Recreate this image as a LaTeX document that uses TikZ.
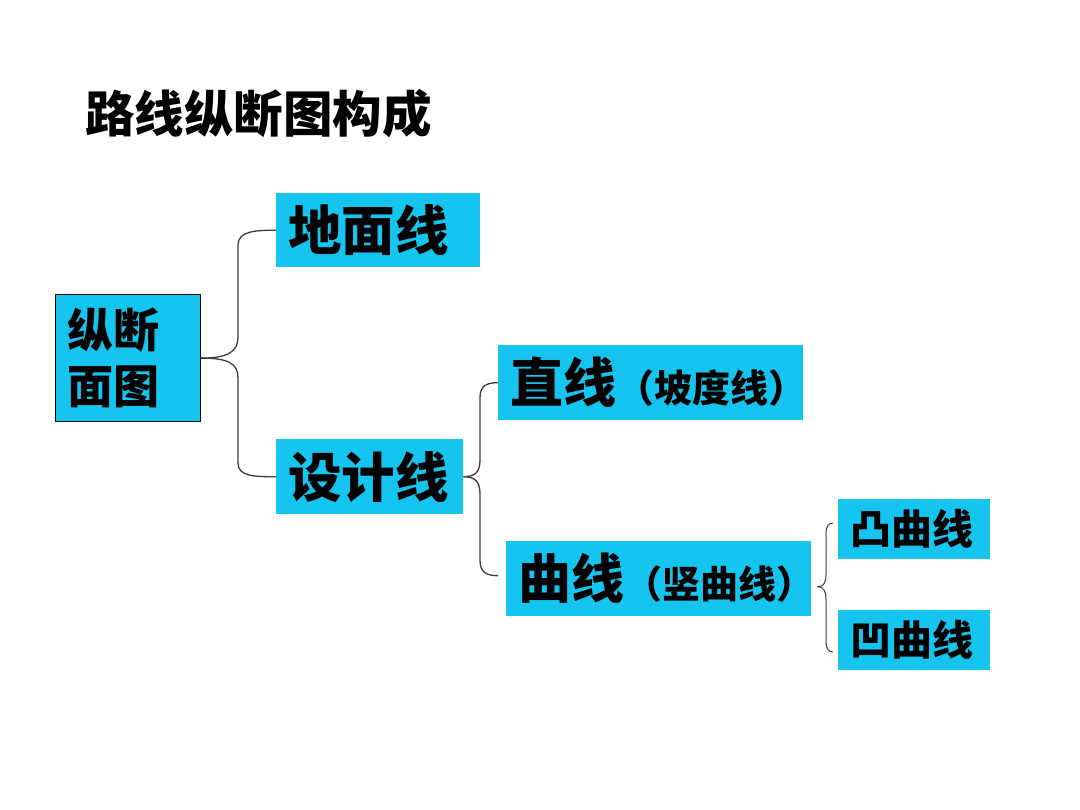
\documentclass[tikz,border=0pt]{standalone}
\usepackage{fontspec}
\setmainfont{Noto Sans CJK SC}
\usetikzlibrary{calc}
\definecolor{boxcyan}{RGB}{22,196,240}
\definecolor{bracegray}{RGB}{60,60,60}
\tikzset{
  box/.style={fill=boxcyan, anchor=north west, inner xsep=12pt, inner ysep=0pt, align=left, font=\bfseries},
  brace/.style={draw=bracegray, line width=1.3pt},
}
\begin{document}
\begin{tikzpicture}[x=1pt,y=-1pt]
\fill[white] (0,0) rectangle (1080,810);
\useasboundingbox (0,0) rectangle (1080,810);

\node[anchor=west, inner sep=0pt, font=\bfseries\fontsize{49.5}{52}\selectfont] (title) at (85,114) {路线纵断图构成};

\node[box, draw=black, line width=1.2pt, text width=121pt, minimum height=127pt,
      font=\bfseries\fontsize{46}{56}\selectfont] (root) at (55,294) {纵断\\面图};
\node[box, text width=180pt, minimum height=74pt, font=\bfseries\fontsize{53.5}{56}\selectfont] (ground) at (276,193) {地面线};
\node[box, text width=163pt, minimum height=75pt, font=\bfseries\fontsize{53.5}{56}\selectfont] (design) at (276,439) {设计线};
\node[box, text width=281pt, minimum height=75pt] (straight) at (498,345)
  {\mbox{{\fontsize{53}{56}\selectfont 直线}{\fontsize{38}{40}\selectfont （坡度线）}}};
\node[box, text width=281pt, minimum height=75pt] (curve) at (506,541)
  {\mbox{{\fontsize{53}{56}\selectfont 曲线}{\fontsize{38}{40}\selectfont （竖曲线）}}};
\node[box, text width=128pt, minimum height=60pt, font=\bfseries\fontsize{41}{44}\selectfont] (convex) at (838,499) {凸曲线};
\node[box, text width=128pt, minimum height=60pt, font=\bfseries\fontsize{41}{44}\selectfont] (concave) at (838,610) {凹曲线};

% brace 1
\draw[brace] (root.east) .. controls +(28,0) and +(0,14) .. (238,337) -- (238,245)
  .. controls +(0,-14) and +(-20,0) .. (ground.west);
\draw[brace] (root.east) .. controls +(28,0) and +(0,-14) .. (238,378) -- (238,463)
  .. controls +(0,14) and +(-20,0) .. (design.west);

% brace 2
\coordinate (c2end) at ($(curve.west)+(-8,-3)$);
\draw[brace] (design.east) .. controls +(12,0) and +(0,12) .. (480,460) -- (480,398)
  .. controls +(0,-12) and +(-12,0) .. (straight.west);
\draw[brace] (design.east) .. controls +(12,0) and +(0,-12) .. (480,494) -- (480,560)
  .. controls +(0,12) and +(-12,0) .. (c2end);

% brace 3
\coordinate (c3tip) at ($(curve.east)+(6,8)$);
\coordinate (c3top) at (833,523);
\coordinate (c3bot) at (833,652);
\draw[brace, line width=1pt] (c3tip) .. controls +(6,0) and +(0,8) .. (826,575) -- (826,533)
  .. controls +(0,-7) and +(-4,0) .. (c3top);
\draw[brace, line width=1pt] (c3tip) .. controls +(6,0) and +(0,-8) .. (826,599) -- (826,642)
  .. controls +(0,7) and +(-4,0) .. (c3bot);
\end{tikzpicture}
\end{document}
